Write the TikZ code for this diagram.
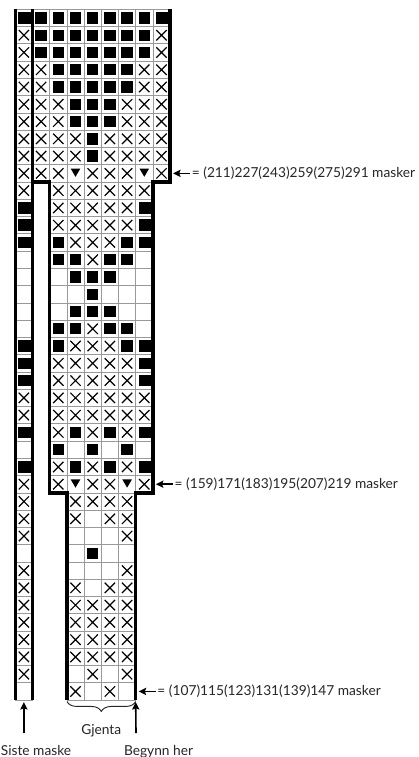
\documentclass[tikz,border=0pt]{standalone}
\usepackage{fontspec}
\setmainfont{Lato}
\usetikzlibrary{arrows.meta,decorations.pathreplacing}
\newcommand\chcell[2]{\draw[gridl] (#1,#2-1) rectangle ++(1,1);}
\newcommand\cellx[2]{\chcell{#1}{#2}\draw[xst] (#1+0.2,#2-0.8) -- (#1+0.8,#2-0.2) (#1+0.2,#2-0.2) -- (#1+0.8,#2-0.8);}
\newcommand\cellb[2]{\chcell{#1}{#2}\fill (#1+0.17,#2-0.83) rectangle (#1+0.83,#2-0.17);}
\newcommand\cellB[2]{\chcell{#1}{#2}\fill (#1+0.17,#2-0.83) rectangle (#1+1,#2-0.17);}
\newcommand\cellt[2]{\chcell{#1}{#2}\fill (#1+0.22,#2-0.78) -- (#1+0.78,#2-0.78) -- (#1+0.5,#2-0.3) -- cycle;}
\newcommand\cello[2]{\chcell{#1}{#2}}
\newcommand\celln[2]{}
\begin{document}
\begin{tikzpicture}[x=0.75pt,y=-0.75pt,
  gridl/.style={draw=black!40, line width=0.55pt},
  xst/.style={draw=black, line width=0.9pt},
  tb/.style={draw=black, line width=2.5pt},
  lab/.style={font=\fontsize{10.3}{12}\selectfont, inner sep=0pt, text=black!85},
  arr/.style={draw=black, line width=1.2pt, -{Stealth[length=5.6pt,width=5.4pt,inset=1pt]}},
  brc/.style={draw=black!85, line width=0.7pt, decorate,
    decoration={brace, mirror, amplitude=7.5pt, raise=1pt}}
]
\useasboundingbox (0,0) rectangle (418,757);
\begin{scope}[shift={(15.3,9.3)}, xscale=17.2, yscale=17.27]
\foreach \r/\row in {
 1/{B,b,b,b,b,b,b,b,B},
 2/{x,b,b,b,b,b,b,b,x},
 3/{x,b,b,b,b,b,b,b,x},
 4/{x,x,b,b,b,b,b,x,x},
 5/{x,x,b,b,b,b,b,x,x},
 6/{x,x,x,b,b,b,x,x,x},
 7/{x,x,x,b,b,b,x,x,x},
 8/{x,x,x,x,b,x,x,x,x},
 9/{x,x,x,x,b,x,x,x,x},
 10/{x,x,x,t,x,x,x,t,x},
 11/{x,n,x,x,x,x,x,x,n},
 12/{B,n,x,x,x,x,x,B,n},
 13/{B,n,x,x,x,x,x,B,n},
 14/{B,n,b,x,x,x,b,B,n},
 15/{o,n,b,b,x,b,b,o,n},
 16/{o,n,o,b,b,b,o,o,n},
 17/{o,n,o,o,b,o,o,o,n},
 18/{o,n,o,b,b,b,o,o,n},
 19/{o,n,b,b,x,b,b,o,n},
 20/{B,n,b,x,x,x,b,B,n},
 21/{B,n,x,x,x,x,x,B,n},
 22/{B,n,x,x,x,x,x,B,n},
 23/{x,n,x,x,x,x,x,x,n},
 24/{x,n,x,x,x,x,x,x,n},
 25/{B,n,x,b,x,b,x,B,n},
 26/{o,n,b,o,b,o,b,o,n},
 27/{B,n,x,b,x,b,x,B,n},
 28/{x,n,x,t,x,x,t,x,n},
 29/{x,n,n,x,x,x,x,n,n},
 30/{x,n,n,x,o,x,x,n,n},
 31/{x,n,n,o,o,o,x,n,n},
 32/{o,n,n,o,b,o,o,n,n},
 33/{x,n,n,o,o,o,x,n,n},
 34/{x,n,n,x,o,x,x,n,n},
 35/{x,n,n,x,x,x,x,n,n},
 36/{x,n,n,x,x,x,x,n,n},
 37/{x,n,n,x,x,x,x,n,n},
 38/{x,n,n,x,x,x,x,n,n},
 39/{x,n,n,o,x,o,x,n,n},
 40/{o,n,n,x,o,x,o,n,n}}{
  \foreach \s [count=\c from 0] in \row {\csname cell\s\endcsname{\c}{\r}}
}
\draw[tb] (0,0) -- (0,40);
\draw[tb] (1,0) -- (1,40);
\draw[tb] (9,0) -- (9,10) -- (8,10) -- (8,28) -- (7,28) -- (7,40);
\draw[tb] (1,10) -- (2,10) -- (2,28) -- (3,28) -- (3,40);
\coordinate (e1) at (9,9.5);
\coordinate (e2) at (8,27.5);
\coordinate (e3) at (7,39.5);
\coordinate (b0) at (0.5,40);
\coordinate (bL) at (3,40);
\coordinate (bR) at (7,40);
\end{scope}
% row labels
\node[lab,anchor=west] (L1) at ([shift={(21.5,0)}]e1) {= (211)227(243)259(275)291 masker};
\node[lab,anchor=west] (L2) at ([shift={(21.5,0)}]e2) {= (159)171(183)195(207)219 masker};
\node[lab,anchor=west] (L3) at ([shift={(21.5,0)}]e3) {= (107)115(123)131(139)147 masker};
\draw[arr] ([shift={(-1.5,0)}]L1.west) -- ([shift={(3,0)}]e1);
\draw[arr] ([shift={(-1.5,0)}]L2.west) -- ([shift={(3,0)}]e2);
\draw[arr] ([shift={(-1.5,0)}]L3.west) -- ([shift={(3,0)}]e3);
% brace
\draw[brc] (bL) -- (bR);
\node[lab,anchor=base] (gj) at (101.3,734.5) {Gjenta};
% bottom labels
\node[lab,anchor=base] (sm) at (36,755.5) {Siste maske};
\node[lab,anchor=base] (bh) at (158.5,755.5) {Begynn her};
\coordinate (smt) at (23.9,733);
\coordinate (bht) at (136,733);
\draw[arr] (smt) -- ([shift={(0,2)}]b0);
\draw[arr] (bht) -- ([shift={(0,2)}]bR);
\end{tikzpicture}
\end{document}
